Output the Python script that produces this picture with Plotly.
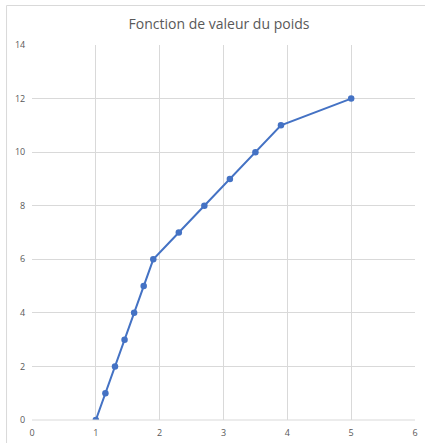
import plotly.graph_objects as go

# Value function of weight: abscissa values and the matching value levels
poids = [1, 1.15, 1.3, 1.45, 1.6, 1.75, 1.9, 2.3, 2.7, 3.1, 3.5, 3.9, 5]
valeur = [0, 1, 2, 3, 4, 5, 6, 7, 8, 9, 10, 11, 12]

x_ticks = [0, 1, 2, 3, 4, 5, 6]
y_ticks = [0, 2, 4, 6, 8, 10, 12, 14]

blue = "#4472C4"
grid = "#D9D9D9"
label_grey = "#595959"

fig = go.Figure()
fig.add_trace(go.Scatter(
    x=poids, y=valeur, mode="lines+markers",
    line=dict(color=blue, width=2),
    marker=dict(color=blue, size=6.5),
    showlegend=False, hoverinfo="x+y",
))

axis_common = dict(
    showgrid=True, gridcolor=grid, gridwidth=1,
    zeroline=False, showline=False, automargin=False,
    tickfont=dict(family="Open Sans", size=9, color=label_grey),
    ticks="outside", ticklen=4, tickcolor="rgba(0,0,0,0)",
    fixedrange=True,
)

fig.update_xaxes(range=[0, 6], tickvals=x_ticks, ticktext=[str(v) for v in x_ticks],
                 **axis_common)
fig.update_yaxes(range=[0, 14], tickvals=y_ticks, ticktext=[str(v) for v in y_ticks],
                 **axis_common)

# Chart frame: thin grey border starting at the top-left corner
ml, mr, mt, mb = 32, 9.5, 45, 23
plot_w = 425 - ml - mr
plot_h = 443 - mt - mb
left_x = (6.5 - ml) / plot_w
top_y = (443 - mb - 5.5) / plot_h
fig.add_shape(type="line", xref="paper", yref="paper",
              x0=left_x, x1=1.2, y0=top_y, y1=top_y,
              line=dict(color=grid, width=1))
fig.add_shape(type="line", xref="paper", yref="paper",
              x0=left_x, x1=left_x, y0=top_y, y1=-0.2,
              line=dict(color=grid, width=1))
# Bottom axis line
fig.add_shape(type="line", xref="paper", yref="paper",
              x0=0, x1=1, y0=0, y1=0,
              line=dict(color=grid, width=1))

fig.update_layout(
    template="none",
    width=425, height=443, autosize=False,
    margin=dict(l=ml, r=mr, t=mt, b=mb, pad=0),
    paper_bgcolor="white", plot_bgcolor="white",
    title=dict(text="Fonction de valeur du poids",
               x=219 / 425, xanchor="center", xref="container",
               y=1 - 24 / 443, yanchor="middle", yref="container",
               font=dict(family="Open Sans", size=14, color=label_grey)),
)

fig.write_html("out.html")
